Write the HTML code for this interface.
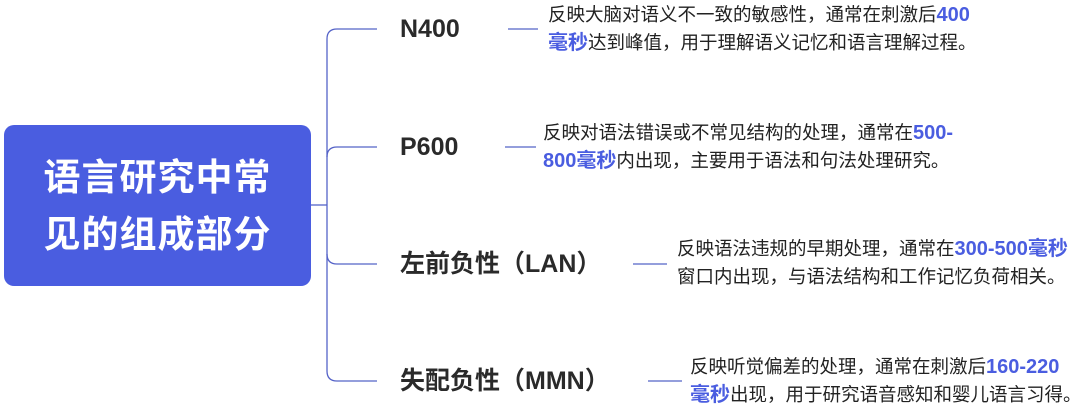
<!DOCTYPE html>
<html><head><meta charset="utf-8"><style>
body{margin:0;width:1080px;height:409px;background:#fff;position:relative;overflow:hidden;font-family:"Liberation Sans","Noto Sans CJK SC",sans-serif;}
.main{position:absolute;left:4px;top:125px;width:307px;height:161px;background:#4a5de0;border-radius:10px;color:#fff;font-weight:bold;font-size:37px;line-height:57px;text-align:center;display:flex;align-items:center;justify-content:center;letter-spacing:1px}
.lab{position:absolute;font-size:25px;font-weight:bold;color:#2a2a2a;line-height:30px}
.d{position:absolute;font-size:18.5px;color:#222;line-height:28px;white-space:nowrap}
.d b{color:#4a5de0;font-weight:bold;font-size:20px}
</style></head><body>
<svg width="1080" height="409" style="position:absolute;left:0;top:0">
<g stroke="#5563c8" stroke-width="1.3" fill="none">
<path d="M311 205H327"/>
<path d="M377 29H337Q327 29 327 39V371Q327 381 337 381H377"/>
<path d="M377 147H337Q327 147 327 157"/>
<path d="M377 264H337Q327 264 327 254"/>
<path d="M508 29H538M505 147H536M633 264H667M648 381H682"/>
</g></svg>
<div class="main"><div>语言研究中常<br>见的组成部分</div></div>
<div class="lab" style="left:400px;top:14px">N400</div>
<div class="lab" style="left:400px;top:132px">P600</div>
<div class="lab" style="left:400px;top:249px">左前负性（LAN）</div>
<div class="lab" style="left:400px;top:366px">失配负性（MMN）</div>
<div class="d" style="left:548px;top:1px">反映大脑对语义不一致的敏感性，通常在刺激后<b>400</b><br><b>毫秒</b>达到峰值，用于理解语义记忆和语言理解过程。</div>
<div class="d" style="left:543px;top:119px">反映对语法错误或不常见结构的处理，通常在<b>500-</b><br><b>800毫秒</b>内出现，主要用于语法和句法处理研究。</div>
<div class="d" style="left:677px;top:235px">反映语法违规的早期处理，通常在<b>300-500毫秒</b><br>窗口内出现，与语法结构和工作记忆负荷相关。</div>
<div class="d" style="left:690px;top:353px">反映听觉偏差的处理，通常在刺激后<b>160-220</b><br><b>毫秒</b>出现，用于研究语音感知和婴儿语言习得。</div>
</body></html>
